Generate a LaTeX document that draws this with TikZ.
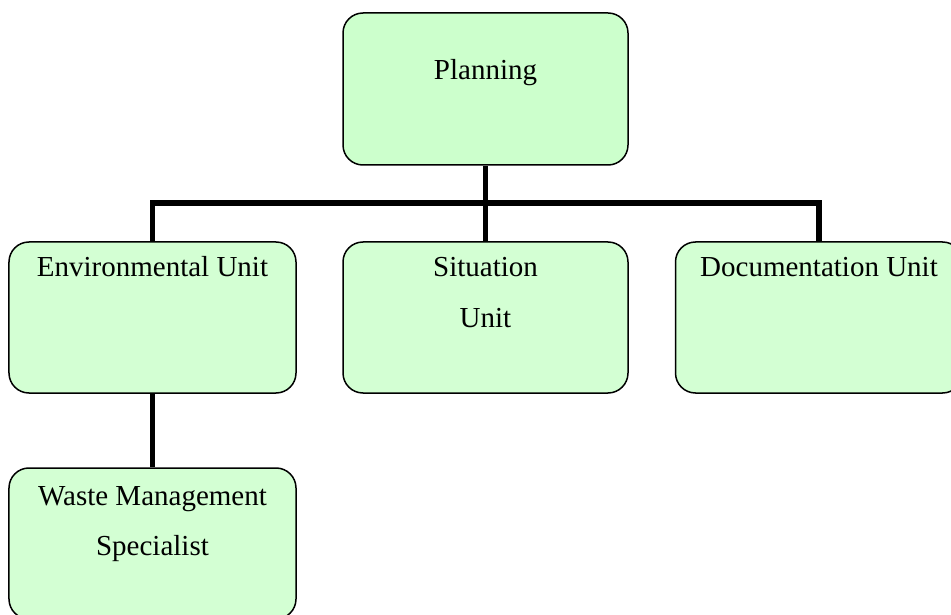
\documentclass[tikz,border=0pt]{standalone}
\usepackage{fontspec}
\setmainfont{Liberation Serif}
\definecolor{topfill}{HTML}{CCFFCC}
\definecolor{boxfill}{HTML}{D3FFD3}
\begin{document}
\begin{tikzpicture}[x=1bp,y=-1bp,
  box/.style={draw=black,line width=1.5bp,rounded corners=20bp,fill=boxfill,inner sep=0pt,minimum width=287bp,minimum height=151bp},
  lbl/.style={anchor=base,align=center,inner sep=0pt,font=\fontsize{29bp}{50bp}\selectfont},
  conn/.style={draw=black,line width=5.5bp,line join=miter}]
\useasboundingbox (0,0) rectangle (951,615);
\clip (0,0) rectangle (951,615);
% boxes
\node[box,fill=topfill,minimum width=285bp,minimum height=152bp] (plan) at (485.5,89) {};
\node[box] (env) at (152.5,317.5) {};
\node[box,minimum width=285bp] (sit) at (485.5,317.5) {};
\node[box] (doc) at (819,317.5) {};
\node[box] (waste) at (152.5,543.5) {};
% connectors
\coordinate (bar) at (485.5,203);
\draw[conn] (plan.south) -- (sit.north);
\draw[conn] (env.north) -- (env.north |- bar) -- (doc.north |- bar) -- (doc.north);
\draw[conn] (env.south) -- (waste.north);
% labels (base anchor = last line's baseline)
\node[lbl] (tplan) at (485.5,80) {Planning};
\node[lbl] (tenv) at (152.5,277) {Environmental Unit};
\node[lbl] (tsit) at (485.5,327) {Situation\\Unit};
\node[lbl] (tdoc) at (819,277) {Documentation Unit};
\node[lbl] (twaste) at (152.5,555) {Waste Management\\Specialist};
\end{tikzpicture}
\end{document}
